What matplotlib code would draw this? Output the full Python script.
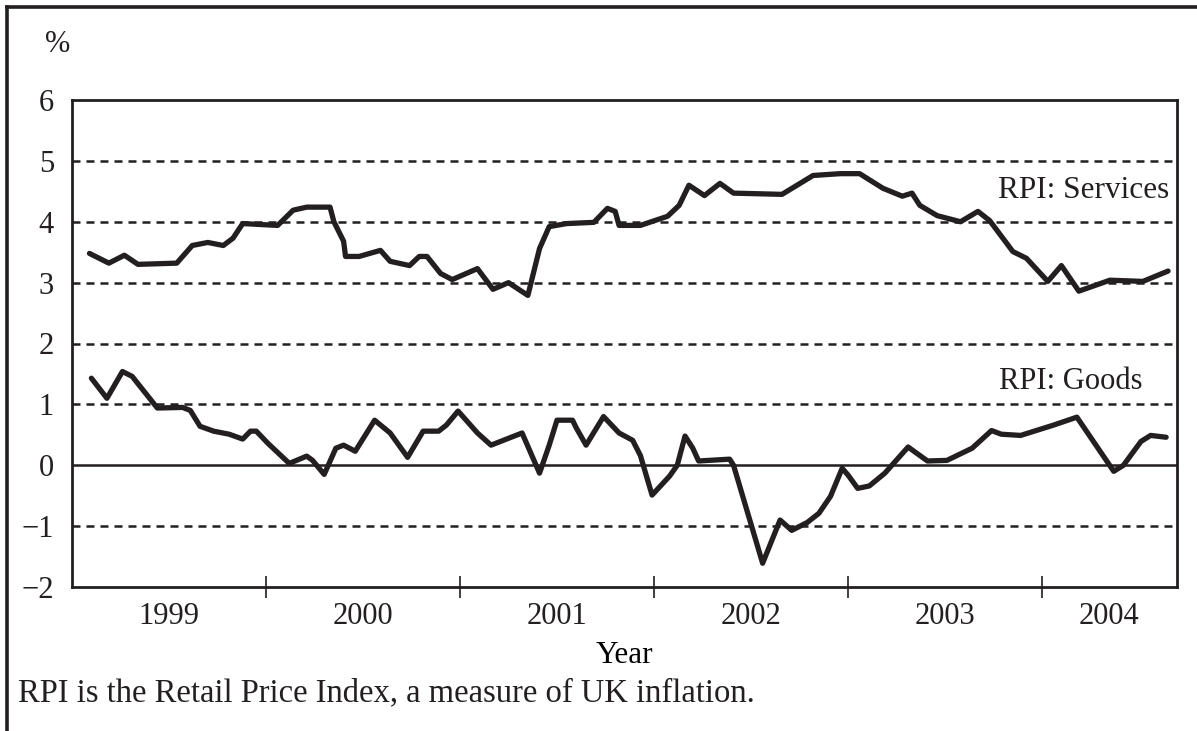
# RPI services vs goods inflation, 1999-2004

import matplotlib
matplotlib.use("Agg")
import matplotlib.pyplot as plt
from matplotlib.lines import Line2D

ink = "#231f20"

# values (x in decimal years, y in %)
services_x = [1999.09, 1999.19, 1999.27, 1999.34, 1999.54, 1999.62, 1999.70, 1999.78,
              1999.83, 1999.88, 2000.06, 2000.14, 2000.21, 2000.33, 2000.35, 2000.40,
              2000.41, 2000.48, 2000.59, 2000.64, 2000.74, 2000.79, 2000.83, 2000.90,
              2000.96, 2001.09, 2001.17, 2001.25, 2001.35, 2001.41, 2001.46, 2001.55,
              2001.69, 2001.76, 2001.80, 2001.82, 2001.93, 2002.07, 2002.13, 2002.18,
              2002.26, 2002.34, 2002.41, 2002.66, 2002.82, 2002.96, 2003.06, 2003.18,
              2003.28, 2003.33, 2003.37, 2003.46, 2003.58, 2003.67, 2003.73, 2003.85,
              2003.92, 2004.03, 2004.10, 2004.19, 2004.35, 2004.52, 2004.65]
services_y = [3.48, 3.32, 3.45, 3.30, 3.32, 3.61, 3.66, 3.61,
              3.73, 3.97, 3.94, 4.19, 4.24, 4.24, 4.00, 3.68,
              3.43, 3.43, 3.53, 3.35, 3.28, 3.43, 3.43, 3.15,
              3.05, 3.23, 2.89, 3.00, 2.79, 3.56, 3.92, 3.97,
              3.99, 4.22, 4.17, 3.94, 3.94, 4.09, 4.27, 4.60,
              4.43, 4.63, 4.47, 4.45, 4.76, 4.79, 4.79, 4.55,
              4.42, 4.47, 4.27, 4.10, 4.00, 4.17, 4.02, 3.51,
              3.40, 3.02, 3.28, 2.86, 3.04, 3.02, 3.19]

goods_x = [1999.10, 1999.18, 1999.26, 1999.31, 1999.44, 1999.57, 1999.61, 1999.66,
           1999.73, 1999.81, 1999.88, 1999.92, 1999.95, 2000.01, 2000.12, 2000.21,
           2000.24, 2000.30, 2000.36, 2000.40, 2000.46, 2000.56, 2000.64, 2000.73,
           2000.81, 2000.89, 2000.93, 2000.99, 2001.09, 2001.16, 2001.32, 2001.41,
           2001.46, 2001.50, 2001.58, 2001.60, 2001.65, 2001.74, 2001.82, 2001.89,
           2001.93, 2001.99, 2002.08, 2002.12, 2002.16, 2002.20, 2002.23, 2002.39,
           2002.41, 2002.56, 2002.65, 2002.71, 2002.79, 2002.85, 2002.91, 2002.97,
           2003.00, 2003.05, 2003.11, 2003.19, 2003.31, 2003.34, 2003.41, 2003.51,
           2003.64, 2003.74, 2003.79, 2003.89, 2004.06, 2004.18, 2004.37, 2004.42,
           2004.51, 2004.56, 2004.64]
goods_y = [1.43, 1.10, 1.54, 1.46, 0.94, 0.95, 0.90, 0.64,
           0.56, 0.51, 0.43, 0.56, 0.56, 0.36, 0.03, 0.15,
           0.08, -0.15, 0.28, 0.33, 0.23, 0.74, 0.53, 0.13,
           0.56, 0.56, 0.66, 0.89, 0.53, 0.33, 0.53, -0.13,
           0.33, 0.74, 0.74, 0.61, 0.33, 0.80, 0.53, 0.41,
           0.16, -0.49, -0.18, 0.00, 0.48, 0.28, 0.07, 0.10,
           0.00, -1.61, -0.90, -1.07, -0.94, -0.79, -0.51, -0.05,
           -0.16, -0.38, -0.34, -0.13, 0.30, 0.23, 0.07, 0.08,
           0.28, 0.57, 0.51, 0.49, 0.66, 0.79, -0.10, 0.00,
           0.39, 0.49, 0.46]

years = [1999, 2000, 2001, 2002, 2003, 2004]
y_ticks = [-2, -1, 0, 1, 2, 3, 4, 5, 6]
y_labels = ["\u22122", "\u22121", "0", "1", "2", "3", "4", "5", "6"]

plt.rcParams["font.family"] = ["Liberation Serif", "DejaVu Serif"]
plt.rcParams["text.color"] = ink

fig = plt.figure(figsize=(11.97, 7.31), dpi=100)
ax = fig.add_axes([72 / 1197, 144 / 731, 1105 / 1197, 487 / 731])

xmin, xmax = 1999.0, 2004.696
ax.set_xlim(xmin, xmax)
ax.set_ylim(-2, 6)

# gridlines
for v in y_ticks[1:-1]:
    if v == 0:
        ax.axhline(v, color=ink, lw=1.8, zorder=1)
    else:
        ax.axhline(v, color=ink, lw=1.8, ls=(0, (3.2, 2.4)), zorder=1)

ax.plot(services_x, services_y, color=ink, lw=3.8, solid_joinstyle="round",
        solid_capstyle="round", zorder=3)
ax.plot(goods_x, goods_y, color=ink, lw=3.8, solid_joinstyle="round",
        solid_capstyle="round", zorder=3)

ax.text(2004.655, 4.52, "RPI: Services", ha="right", va="center", fontsize=22.5)
ax.text(2004.52, 1.38, "RPI: Goods", ha="right", va="center", fontsize=22)

for s in ax.spines.values():
    s.set_color(ink)
    s.set_linewidth(2)

ax.set_yticks(y_ticks)
ax.set_yticklabels(y_labels, fontsize=22)
ax.tick_params(axis="y", length=0, pad=13, colors=ink)

ax.set_xticks(years[1:])
ax.set_xticklabels([])
ax.tick_params(axis="x", direction="inout", length=16, width=1.2, colors=ink)
label_pos = [y + 0.5 for y in years[:-1]] + [(years[-1] + xmax) / 2]
ax.set_xticks(label_pos, minor=True)
ax.set_xticklabels([str(y) for y in years], minor=True, fontsize=22)
ax.tick_params(axis="x", which="minor", length=0, pad=11, colors=ink)

ax.set_xlabel("Year", fontsize=22.5, labelpad=7)

fig.text(45 / 1197, 1 - 45 / 731, "%", fontsize=22, ha="left", va="center")
fig.text(18 / 1197, 1 - 693 / 731, "RPI is the Retail Price Index, a measure of UK inflation.",
         fontsize=23.5, ha="left", va="center")

# outer frame: top and left edges only
fig.add_artist(Line2D([7 / 1197, 1], [1 - 7 / 731, 1 - 7 / 731], color=ink, lw=2.6,
                      transform=fig.transFigure))
fig.add_artist(Line2D([7 / 1197, 7 / 1197], [0, 1 - 7 / 731], color=ink, lw=2.6,
                      transform=fig.transFigure))

fig.savefig("out.png", dpi=100)
